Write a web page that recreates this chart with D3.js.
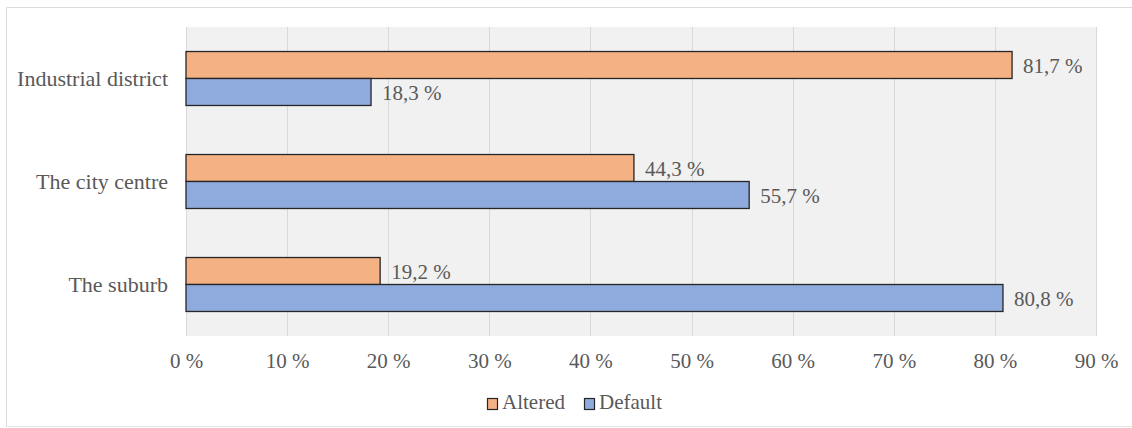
<!DOCTYPE html>
<html>
<head>
<meta charset="utf-8">
<script src="https://cdn.jsdelivr.net/npm/d3@7"></script>
<style>
  html, body { margin: 0; padding: 0; background: #ffffff; }
  svg { display: block; }
  text { font-family: "Liberation Serif", "Times New Roman", serif; fill: #595959; }
</style>
</head>
<body>
<svg id="chart" width="1132" height="428"></svg>
<script>
// Share of responses by district, per variant
const categories = ["Industrial district", "The city centre", "The suburb"];
const seriesNames = ["Altered", "Default"];
const altered = [81.7, 44.3, 19.2];
const defaults = [18.3, 55.7, 80.8];
const tickValues = [0, 10, 20, 30, 40, 50, 60, 70, 80, 90];

const colors = { Altered: "#f4b183", Default: "#8faadc" };

const svg = d3.select("#chart");
const W = 1132, H = 428;
const plot = { left: 186, right: 1096, top: 27, bottom: 336 };

// Frame around the whole chart
svg.append("path")
  .attr("d", `M6.5,426.5 V7.5 H${W}`)
  .attr("fill", "none").attr("stroke", "#dcdcdc").attr("stroke-width", 1);
svg.append("line")
  .attr("x1", 6).attr("x2", W).attr("y1", 426.5).attr("y2", 426.5)
  .attr("stroke", "#e6e6e6").attr("stroke-width", 1);

// Plot area background
svg.append("rect")
  .attr("x", plot.left).attr("y", plot.top)
  .attr("width", plot.right - plot.left).attr("height", plot.bottom - plot.top)
  .attr("fill", "#f1f1f1");

const x = d3.scaleLinear().domain([0, 90]).range([plot.left, plot.right]);
const y = d3.scaleBand().domain(categories)
  .range([plot.top, plot.bottom]).paddingInner(0.476).paddingOuter(0.238);
const ySub = d3.scaleBand().domain(seriesNames).range([0, y.bandwidth()]);

// Vertical gridlines
svg.append("g").selectAll("line").data(tickValues).join("line")
  .attr("x1", d => Math.round(x(d)) + 0.5).attr("x2", d => Math.round(x(d)) + 0.5)
  .attr("y1", plot.top).attr("y2", plot.bottom)
  .attr("stroke", "#d9d9d9").attr("stroke-width", 1);

// X axis labels
const xAxis = d3.axisBottom(x).tickValues(tickValues)
  .tickFormat(d => d + " %").tickSize(0).tickPadding(0);
const gx = svg.append("g").attr("transform", `translate(0,${plot.bottom})`).call(xAxis);
gx.select(".domain").remove();
gx.selectAll("text")
  .attr("y", 32).attr("dy", 0)
  .attr("font-size", 21)
  .style("font-family", "'Liberation Serif', 'Times New Roman', serif")
  .attr("fill", "#595959");

// Y axis labels
const yAxis = d3.axisLeft(y).tickSize(0).tickPadding(18);
const gy = svg.append("g").attr("transform", `translate(${plot.left},0)`).call(yAxis);
gy.select(".domain").remove();
gy.selectAll("text")
  .attr("dy", "0.32em")
  .attr("font-size", 22)
  .style("font-family", "'Liberation Serif', 'Times New Roman', serif")
  .attr("fill", "#595959");

// Bars
const rows = categories.map((c, i) => ({
  category: c,
  values: [
    { series: "Altered", value: altered[i] },
    { series: "Default", value: defaults[i] }
  ]
}));

const groups = svg.append("g").selectAll("g").data(rows).join("g")
  .attr("transform", d => `translate(0,${y(d.category)})`);

groups.selectAll("rect").data(d => d.values).join("rect")
  .attr("x", x(0))
  .attr("y", d => ySub(d.series))
  .attr("width", d => x(d.value) - x(0))
  .attr("height", ySub.bandwidth())
  .attr("fill", d => colors[d.series])
  .attr("stroke", "#262626").attr("stroke-width", 1.3);

// Value labels
const fmt = v => v.toFixed(1).replace(".", ",") + " %";
groups.selectAll("text.val").data(d => d.values).join("text")
  .attr("class", "val")
  .attr("x", d => x(d.value) + 11)
  .attr("y", d => ySub(d.series) + ySub.bandwidth() / 2)
  .attr("dy", "0.36em")
  .attr("font-size", 21)
  .text(d => fmt(d.value));

// Legend
const legend = svg.append("g").attr("transform", "translate(487,398)");
const legendOffsets = [0, 97];
seriesNames.forEach((s, i) => {
  const g = legend.append("g").attr("transform", `translate(${legendOffsets[i]},0)`);
  g.append("rect")
    .attr("x", 0.5).attr("y", 0.5).attr("width", 10).attr("height", 11)
    .attr("fill", colors[s]).attr("stroke", "#262626").attr("stroke-width", 1.2);
  g.append("text")
    .attr("x", 15).attr("y", 11)
    .attr("font-size", 21)
    .text(s);
});
</script>
</body>
</html>
